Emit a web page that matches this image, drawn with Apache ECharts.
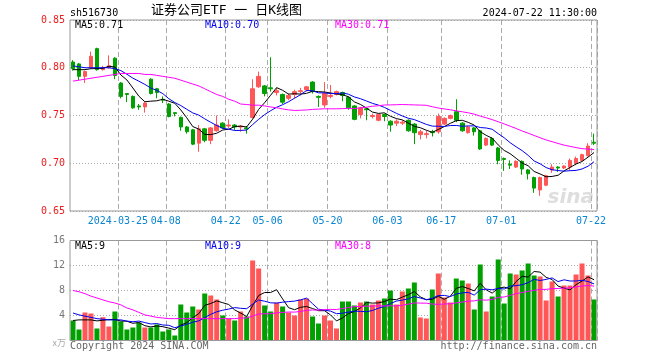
<!DOCTYPE html>
<html><head><meta charset="utf-8">
<script src="https://cdn.jsdelivr.net/npm/echarts@6/dist/echarts.min.js"></script>
<style>html,body{margin:0;padding:0;background:#fff}#c{width:660px;height:360px}</style>
</head><body><div id="c"></div>
<script>
const dates = [
'2024-03-13','2024-03-14','2024-03-15','2024-03-18','2024-03-19','2024-03-20','2024-03-21','2024-03-22','2024-03-25','2024-03-26','2024-03-27','2024-03-28','2024-03-29',
'2024-04-01','2024-04-02','2024-04-03','2024-04-08','2024-04-09','2024-04-10','2024-04-11','2024-04-12','2024-04-15','2024-04-16','2024-04-17','2024-04-18','2024-04-19','2024-04-22','2024-04-23','2024-04-24','2024-04-25','2024-04-26','2024-04-29','2024-04-30',
'2024-05-06','2024-05-07','2024-05-08','2024-05-09','2024-05-10','2024-05-13','2024-05-14','2024-05-15','2024-05-16','2024-05-17','2024-05-20','2024-05-21','2024-05-22','2024-05-23','2024-05-24','2024-05-27','2024-05-28','2024-05-29','2024-05-30','2024-05-31',
'2024-06-03','2024-06-04','2024-06-05','2024-06-06','2024-06-07','2024-06-11','2024-06-12','2024-06-13','2024-06-14','2024-06-17','2024-06-18','2024-06-19','2024-06-20','2024-06-21','2024-06-24','2024-06-25','2024-06-26','2024-06-27','2024-06-28',
'2024-07-01','2024-07-02','2024-07-03','2024-07-04','2024-07-05','2024-07-08','2024-07-09','2024-07-10','2024-07-11','2024-07-12','2024-07-15','2024-07-16','2024-07-17','2024-07-18','2024-07-19','2024-07-22'];

const opens = [0.806,0.804,0.791,0.800,0.820,0.798,0.800,0.810,0.784,0.773,0.770,0.760,0.759,0.788,0.778,0.767,0.762,0.753,0.748,0.738,0.735,0.721,0.736,0.724,0.734,0.742,0.739,0.740,0.738,0.737,
0.748,0.780,0.781,0.779,0.774,0.772,0.768,0.772,0.775,0.777,0.785,0.770,0.761,0.770,0.772,0.774,0.769,0.760,0.751,0.757,0.749,0.745,0.751,0.744,0.742,0.742,0.745,0.741,0.730,0.730,
0.733,0.733,0.741,0.747,0.754,0.742,0.732,0.737,0.734,0.719,0.726,0.716,0.705,0.699,0.696,0.702,0.693,0.685,0.672,0.677,0.693,0.696,0.695,0.696,0.700,0.703,0.708,0.722];
const closes = [0.799,0.791,0.796,0.812,0.798,0.800,0.802,0.792,0.770,0.772,0.758,0.759,0.763,0.773,0.774,0.766,0.749,0.752,0.738,0.733,0.720,0.736,0.724,0.737,0.740,0.737,0.740,0.738,0.739,0.736,
0.778,0.791,0.773,0.778,0.776,0.764,0.771,0.775,0.776,0.780,0.775,0.769,0.773,0.771,0.775,0.771,0.758,0.746,0.758,0.756,0.750,0.751,0.749,0.740,0.744,0.743,0.734,0.732,0.733,0.731,
0.732,0.749,0.747,0.750,0.745,0.734,0.738,0.733,0.715,0.726,0.719,0.703,0.704,0.698,0.702,0.694,0.689,0.674,0.685,0.687,0.696,0.695,0.697,0.703,0.705,0.709,0.718,0.721];
const lows = [0.797,0.787,0.784,0.799,0.797,0.797,0.799,0.788,0.768,0.764,0.757,0.756,0.753,0.772,0.768,0.763,0.748,0.749,0.734,0.731,0.719,0.712,0.722,0.720,0.733,0.736,0.737,0.735,0.733,0.731,
0.747,0.779,0.770,0.775,0.771,0.762,0.766,0.768,0.771,0.775,0.773,0.759,0.758,0.768,0.771,0.765,0.756,0.745,0.747,0.745,0.747,0.744,0.744,0.733,0.739,0.740,0.733,0.720,0.725,0.726,
0.728,0.731,0.740,0.746,0.743,0.733,0.731,0.729,0.714,0.718,0.718,0.699,0.692,0.694,0.695,0.688,0.683,0.669,0.666,0.676,0.690,0.691,0.694,0.693,0.698,0.702,0.707,0.719];
const highs = [0.808,0.805,0.797,0.817,0.821,0.802,0.813,0.811,0.785,0.773,0.771,0.762,0.764,0.789,0.779,0.770,0.763,0.753,0.749,0.739,0.736,0.740,0.737,0.738,0.750,0.743,0.746,0.741,0.740,0.739,
0.788,0.796,0.782,0.811,0.779,0.773,0.773,0.777,0.779,0.781,0.786,0.771,0.785,0.782,0.776,0.775,0.770,0.761,0.759,0.758,0.752,0.752,0.752,0.745,0.746,0.745,0.746,0.742,0.735,0.734,
0.735,0.752,0.748,0.751,0.767,0.743,0.739,0.738,0.735,0.727,0.727,0.717,0.706,0.703,0.703,0.703,0.694,0.686,0.686,0.688,0.699,0.697,0.698,0.705,0.707,0.710,0.721,0.731];
const volumes = [3.2,1.76,4.48,4.32,1.92,3.73,2.24,4.64,3.04,1.76,2.08,2.88,2.08,2.08,2.56,1.44,1.76,0.8,5.76,4.48,5.44,4.96,7.52,7.2,6.56,4.0,3.52,3.2,4.64,3.84,
12.8,11.52,5.6,4.64,6.08,5.44,4.48,4.0,6.56,6.72,3.84,2.72,4.0,3.2,1.92,6.24,6.24,5.6,6.08,6.24,5.76,6.4,6.72,8.0,5.76,7.84,8.32,9.28,3.68,3.52,
8.16,10.72,6.88,6.08,9.92,9.6,9.12,4.96,12.16,4.64,7.04,12.96,5.92,10.72,10.56,11.2,12.32,10.4,10.24,6.4,9.44,7.04,8.8,8.8,10.56,12.32,10.4,6.56];

const tickDates = ['2024-03-25','2024-04-08','2024-04-22','2024-05-06','2024-05-20','2024-06-03','2024-06-17','2024-07-01','2024-07-22'];
const priceTicks = [0.65,0.70,0.75,0.80,0.85];
const volumeTicks = [4,8,12,16];

// MA values for the first days (history before the window is not shown)
const ma5Head = [0.798,0.798,0.798,0.799];
const ma10Head = [0.802,0.801,0.800,0.800,0.800,0.800,0.800,0.799,0.797];
const ma30Head = [0.786,0.787,0.788,0.789,0.790,0.791,0.792,0.793,0.794,0.794,0.794,0.794,0.793,0.793,0.792,0.791,0.790,0.789,0.787,0.785,0.783,0.781,0.778,0.775,0.772,0.770,0.767,0.765,0.762];
const volMa5Head = [3.2,3.3,3.3,3.3];
const volMa10Head = [4.4,4.1,3.9,3.7,3.5,3.4,3.3,3.3,3.3];
const volMa30Head = [8.0,7.8,7.5,7.1,6.8,6.5,6.2,6.0,5.7,5.2,4.9,4.5,4.1,3.9,3.7,3.6,3.5,3.5,3.5,3.5,3.5,3.5,3.5,3.5,3.5,3.5,3.5,3.5,3.6];

const headerCode = 'sh516730';
const titleText = '证券公司ETF 一 日K线图';
const timeText = '2024-07-22 11:30:00';
const priceLegend = ['MA5:0.71','MA10:0.70','MA30:0.71'];
const volLegend = ['MA5:9','MA10:9','MA30:8'];

function movingAvg(src, n, head) {
  return src.map((_, i) => {
    if (i < n - 1) return head[i];
    let s = 0;
    for (let k = i - n + 1; k <= i; k++) s += src[k];
    return +(s / n).toFixed(4);
  });
}

const RED = '#ff5757', GREEN = '#00a000';
const MONO = '"DejaVu Sans Mono", "Liberation Mono", monospace';
const candleData = opens.map((o, i) => [o, closes[i], lows[i], highs[i]]);
const volData = volumes.map((v, i) => ({ value: v, itemStyle: { color: closes[i] >= opens[i] ? RED : GREEN } }));
const tickSet = new Set(tickDates);

const vSplit = { show: true, interval: (i, v) => tickSet.has(dates[i]), lineStyle: { color: '#aaa', type: [5, 3], width: 1 } };
const hSplit = { show: true, lineStyle: { color: '#aaa', type: [1, 2], width: 1 } };

const chart = echarts.init(document.getElementById('c'), null, { renderer: 'canvas' });
const L = 70, W = 527;
chart.setOption({
  animation: false,
  backgroundColor: '#fff',
  grid: [
    { left: L, top: 20, width: W, height: 191, containLabel: false, outerBoundsMode: 'none', show: false },
    { left: L, top: 240.5, width: W, height: 100, containLabel: false, outerBoundsMode: 'none', show: false }
  ],
  xAxis: [
    { type: 'category', gridIndex: 0, data: dates, boundaryGap: true,
      axisLine: { show: false }, axisTick: { show: false },
      axisLabel: { show: true, interval: (i, v) => tickSet.has(dates[i]), margin: 5, color: '#0a85d0', fontFamily: MONO, fontSize: 10,
        padding: [0, 6, 0, 0],
        formatter: v => v === tickDates[0] ? v : v.slice(5) },
      splitLine: vSplit },
    { type: 'category', gridIndex: 1, data: dates, boundaryGap: true,
      axisLine: { show: false }, axisTick: { show: false }, axisLabel: { show: false },
      splitLine: vSplit }
  ],
  yAxis: [
    { type: 'value', gridIndex: 0, min: priceTicks[0], max: priceTicks[priceTicks.length - 1], interval: 0.05, scale: true,
      axisLine: { show: false }, axisTick: { show: false },
      axisLabel: { color: '#ee1c1c', fontFamily: MONO, fontSize: 10, margin: 5, formatter: v => v.toFixed(2) },
      splitLine: hSplit },
    { type: 'value', gridIndex: 1, min: 0, max: volumeTicks[volumeTicks.length - 1], interval: 4,
      axisLine: { show: false }, axisTick: { show: false },
      axisLabel: { color: '#777', fontFamily: MONO, fontSize: 10, margin: 5, formatter: v => v === 0 ? '' : String(v) },
      splitLine: hSplit }
  ],
  series: [
    { type: 'candlestick', xAxisIndex: 0, yAxisIndex: 0, data: candleData, barWidth: 4,
      itemStyle: { color: RED, color0: GREEN, borderColor: RED, borderColor0: GREEN, borderWidth: 1 } },
    { type: 'line', xAxisIndex: 0, yAxisIndex: 0, data: movingAvg(closes, 5, ma5Head), symbol: 'none', lineStyle: { color: '#000', width: 1 }, z: 5 },
    { type: 'line', xAxisIndex: 0, yAxisIndex: 0, data: movingAvg(closes, 10, ma10Head), symbol: 'none', lineStyle: { color: '#0000ee', width: 1 }, z: 5 },
    { type: 'line', xAxisIndex: 0, yAxisIndex: 0, data: movingAvg(closes, 30, ma30Head), symbol: 'none', lineStyle: { color: '#ff00ff', width: 1 }, z: 5 },
    { type: 'bar', xAxisIndex: 1, yAxisIndex: 1, data: volData, barWidth: 5 },
    { type: 'line', xAxisIndex: 1, yAxisIndex: 1, data: movingAvg(volumes, 5, volMa5Head), symbol: 'none', lineStyle: { color: '#000', width: 1 }, z: 5 },
    { type: 'line', xAxisIndex: 1, yAxisIndex: 1, data: movingAvg(volumes, 10, volMa10Head), symbol: 'none', lineStyle: { color: '#0000ee', width: 1 }, z: 5 },
    { type: 'line', xAxisIndex: 1, yAxisIndex: 1, data: movingAvg(volumes, 30, volMa30Head), symbol: 'none', lineStyle: { color: '#ff00ff', width: 1 }, z: 5 }
  ],
  graphic: [
    { type: 'rect', shape: { x: L, y: 20, width: W, height: 191 }, style: { fill: 'none', stroke: '#999', lineWidth: 1 }, z: 50, silent: true },
    { type: 'rect', shape: { x: L, y: 240.5, width: W, height: 100 }, style: { fill: 'none', stroke: '#999', lineWidth: 1 }, z: 50, silent: true },
    { type: 'text', x: 70, y: 13, style: { text: headerCode, font: '10px ' + MONO, fill: '#000', align: 'left', verticalAlign: 'middle' } },
    { type: 'text', x: 151, y: 11, style: { text: titleText, font: '13px "DejaVu Sans Mono", "Noto Sans CJK SC"', fill: '#000', align: 'left', verticalAlign: 'middle' } },
    { type: 'text', x: 597, y: 13, style: { text: timeText, font: '10px ' + MONO, fill: '#000', align: 'right', verticalAlign: 'middle' } },
    { type: 'text', x: 75, y: 25.5, style: { text: priceLegend[0], font: '10px ' + MONO, fill: '#000', align: 'left', verticalAlign: 'middle' }, z: 60 },
    { type: 'text', x: 205, y: 25.5, style: { text: priceLegend[1], font: '10px ' + MONO, fill: '#0000ee', align: 'left', verticalAlign: 'middle' }, z: 60 },
    { type: 'text', x: 335, y: 25.5, style: { text: priceLegend[2], font: '10px ' + MONO, fill: '#ff00ff', align: 'left', verticalAlign: 'middle' }, z: 60 },
    { type: 'text', x: 75, y: 246, style: { text: volLegend[0], font: '10px ' + MONO, fill: '#000', align: 'left', verticalAlign: 'middle' }, z: 60 },
    { type: 'text', x: 205, y: 246, style: { text: volLegend[1], font: '10px ' + MONO, fill: '#0000ee', align: 'left', verticalAlign: 'middle' }, z: 60 },
    { type: 'text', x: 335, y: 246, style: { text: volLegend[2], font: '10px ' + MONO, fill: '#ff00ff', align: 'left', verticalAlign: 'middle' }, z: 60 },
    { type: 'text', x: 70, y: 346, style: { text: 'Copyright 2024 SINA.COM', font: '10px ' + MONO, fill: '#666', align: 'left', verticalAlign: 'middle' } },
    { type: 'text', x: 597, y: 346, style: { text: 'http://finance.sina.com.cn', font: '10px ' + MONO, fill: '#666', align: 'right', verticalAlign: 'middle' } },
    { type: 'text', x: 66, y: 343, style: { text: 'x万', font: '9px "Noto Sans CJK SC"', fill: '#aaa', align: 'right', verticalAlign: 'middle' } },
    { type: 'text', x: 594, y: 198, style: { text: 'sina', font: 'italic bold 20px "DejaVu Sans"', fill: 'rgba(190,190,190,0.5)', align: 'right', verticalAlign: 'middle' }, z: 1 }
  ]
});
</script>
</body></html>
